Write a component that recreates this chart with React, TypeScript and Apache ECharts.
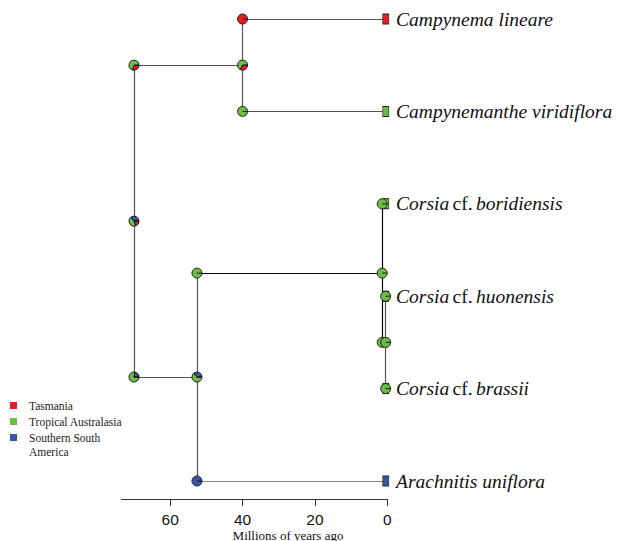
import { useEffect, useRef } from "react";
import * as echarts from "echarts";

// ---- data ----
const regionNames = ["Tasmania", "Tropical Australasia", "Southern South\nAmerica"];
const ageTicks = [0, 20, 40, 60];
const axisTitle = "Millions of years ago";

const tipIds = ["t0", "t1", "t2", "t3", "t4", "t5"];
const tipLabels = [
  "{i|Campynema lineare}",
  "{i|Campynemanthe viridiflora}",
  "{i|Corsia} {n|cf.} {i|boridiensis}",
  "{i|Corsia} {n|cf.} {i|huonensis}",
  "{i|Corsia} {n|cf.} {i|brassii}",
  "{i|Arachnitis uniflora}",
];
const tipOrder = [1, 2, 3, 4, 5, 6];
const tipRegion = [0, 1, 1, 1, 1, 2];

const nodeIds = ["root", "camp", "corsArach", "corsia", "sub"];
const nodeAges = [70, 40, 52.6, 1.4, 0.45];
const nodeChildren = [
  ["camp", "corsArach"],
  ["t0", "t1"],
  ["corsia", "t5"],
  ["t2", "sub"],
  ["t3", "t4"],
];
// posterior probabilities [Tasmania, Tropical Australasia, Southern South America]
const nodeProbs = [
  [0.2, 0.45, 0.35],
  [0.33, 0.67, 0],
  [0, 0.65, 0.35],
  [0, 1, 0],
  [0, 1, 0],
];
// probabilities at the start of the branch leading to each child
const branchChild = ["camp", "corsArach", "t0", "t1", "corsia", "t5", "t2", "sub", "t3", "t4"];
const branchStartProbs = [
  [0.3, 0.7, 0],
  [0, 0.78, 0.22],
  [1, 0, 0],
  [0, 1, 0],
  [0, 1, 0],
  [0, 0, 1],
  [0, 1, 0],
  [0, 1, 0],
  [0, 1, 0],
  [0, 1, 0],
];

// ---- styles ----
const regionColors = ["#EC1C24", "#6CBD45", "#3A55A4"];
const GRAY = "#555555";
const BLACK = "#0a0a0a";
const blackBranches = new Set(["corsia", "t5", "t2", "sub"]);
const blackVerticals = new Set(["corsia"]);
const PIE_R = 5;

export default function App() {
  const ref = useRef<HTMLDivElement>(null);

  useEffect(() => {
    if (!ref.current) return;
    const chart = echarts.init(ref.current, null, { renderer: "svg" });

    // layout of the tree from data
    const pos: Record<string, { age: number; y: number }> = {};
    tipIds.forEach((id, i) => (pos[id] = { age: 0, y: tipOrder[i] }));
    const resolve = (id: string): { age: number; y: number } => {
      if (pos[id]) return pos[id];
      const k = nodeIds.indexOf(id);
      const ch = nodeChildren[k].map(resolve);
      pos[id] = { age: nodeAges[k], y: (ch[0].y + ch[ch.length - 1].y) / 2 };
      return pos[id];
    };
    nodeIds.forEach(resolve);
    const parentOf: Record<string, string> = {};
    nodeIds.forEach((id, k) => nodeChildren[k].forEach((c) => (parentOf[c] = id)));

    const segs: any[] = [];
    nodeIds.forEach((id, k) => {
      const ys = nodeChildren[k].map((c) => pos[c].y);
      segs.push({
        coords: [
          [pos[id].age, Math.min(...ys)],
          [pos[id].age, Math.max(...ys)],
        ],
        lineStyle: { color: blackVerticals.has(id) ? BLACK : GRAY },
      });
    });
    branchChild.forEach((c) => {
      const p = pos[parentOf[c]];
      segs.push({
        coords: [
          [p.age, pos[c].y],
          [pos[c].age, pos[c].y],
        ],
        lineStyle: { color: blackBranches.has(c) ? BLACK : GRAY },
      });
    });

    const pies: number[][] = [];
    branchChild.forEach((c, i) => {
      const p = pos[parentOf[c]];
      pies.push([p.age, pos[c].y, ...branchStartProbs[i]]);
    });
    nodeIds.forEach((id, k) => pies.push([pos[id].age, pos[id].y, ...nodeProbs[k]]));

    const serif = "'Liberation Serif', 'Times New Roman', serif";

    const legendGraphics: any[] = [];
    const legendY = [402, 418, 434];
    regionNames.forEach((name, i) => {
      legendGraphics.push({
        type: "rect",
        left: 10,
        top: legendY[i],
        shape: { width: 7, height: 7 },
        style: { fill: regionColors[i] },
      });
      legendGraphics.push({
        type: "text",
        left: 29,
        top: legendY[i] - 3,
        style: {
          text: name,
          font: `11.5px ${serif}`,
          fill: "#222",
          lineHeight: 14,
        },
      });
    });
    legendGraphics.push({
      type: "text",
      x: 288,
      y: 535,
      style: {
        text: axisTitle,
        font: `13px ${serif}`,
        fill: "#111",
        align: "center",
        verticalAlign: "middle",
        lineHeight: 12,
      },
    });

    chart.setOption({
      animation: false,
      grid: {
        left: 121.7,
        top: 19,
        width: 265.6,
        height: 462,
        containLabel: false,
        outerBoundsMode: "none",
      },
      xAxis: {
        type: "value",
        min: 0,
        max: 73.4,
        inverse: true,
        offset: 18,
        axisLine: { show: true, lineStyle: { color: "#333", width: 1 } },
        axisTick: { show: true, length: 7, customValues: ageTicks, lineStyle: { color: "#333" } },
        axisLabel: {
          customValues: ageTicks,
          margin: 14,
          fontSize: 15.5,
          lineHeight: 13,
          fontFamily: "'Liberation Sans', Arial, sans-serif",
          color: "#111",
        },
        splitLine: { show: false },
      },
      yAxis: {
        type: "value",
        min: 1,
        max: 6,
        inverse: true,
        show: false,
        splitLine: { show: false },
      },
      graphic: legendGraphics,
      series: [
        {
          type: "lines",
          coordinateSystem: "cartesian2d",
          silent: true,
          lineStyle: { width: 1.2, opacity: 1 },
          data: segs,
          z: 1,
        },
        {
          type: "scatter",
          silent: true,
          symbol: "rect",
          symbolSize: [6, 10],
          symbolOffset: [-1.5, 0],
          itemStyle: { borderColor: "#222", borderWidth: 0.8, opacity: 1 },
          label: {
            show: true,
            position: "right",
            distance: 7,
            rich: {
              i: { fontStyle: "italic", fontFamily: serif, fontSize: 19.5, color: "#111" },
              n: { fontStyle: "normal", fontFamily: serif, fontSize: 19.5, color: "#111" },
            },
          },
          data: tipIds.map((id, i) => ({
            value: [pos[id].age, pos[id].y],
            itemStyle: { color: regionColors[tipRegion[i]] },
            label: { formatter: tipLabels[i] },
          })),
          z: 2,
        },
        {
          type: "custom",
          silent: true,
          encode: { x: 0, y: 1 },
          data: pies,
          z: 3,
          renderItem: (params: any, api: any) => {
            const c = api.coord([api.value(0), api.value(1)]);
            const children: any[] = [];
            let a = 0;
            for (let i = 0; i < 3; i++) {
              const p = api.value(2 + i);
              if (!(p > 0)) continue;
              const e = a + p * Math.PI * 2;
              children.push({
                type: "sector",
                shape: { cx: c[0], cy: c[1], r: PIE_R, r0: 0, startAngle: a, endAngle: e, clockwise: true },
                style: { fill: regionColors[i], stroke: "#111", lineWidth: 0.9 },
              });
              a = e;
            }
            children.push({
              type: "line",
              shape: { x1: c[0], y1: c[1], x2: c[0] + PIE_R, y2: c[1] },
              style: { stroke: "#111", lineWidth: 0.9 },
            });
            return { type: "group", children };
          },
        },
      ],
    });

    return () => chart.dispose();
  }, []);

  return (
    <div
      ref={ref}
      style={{ position: "absolute", left: 0, top: 0, width: 620, height: 541 }}
    />
  );
}
